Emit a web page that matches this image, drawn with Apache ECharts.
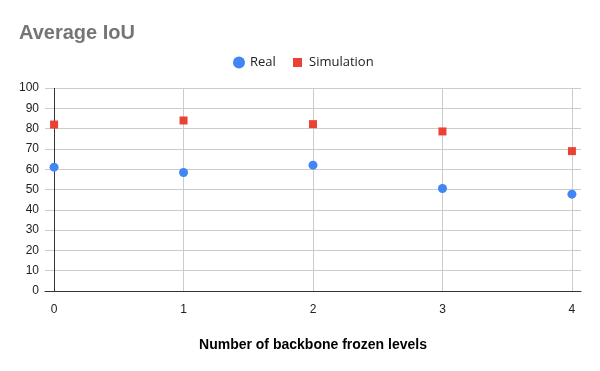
<!DOCTYPE html>
<html>
<head>
<meta charset="utf-8">
<script src="https://cdn.jsdelivr.net/npm/echarts@6/dist/echarts.min.js"></script>
<style>html,body{margin:0;padding:0;background:#fff}#c{width:600px;height:371px}</style>
</head>
<body>
<div id="c"></div>
<script>
const xLevels = [0, 1, 2, 3, 4];
const realIoU = [61.0, 58.4, 62.0, 50.5, 47.7];
const simIoU = [82.0, 84.0, 82.2, 78.6, 68.9];
const xTickLabels = [0, 1, 2, 3, 4];
const seriesNames = ['Real', 'Simulation'];

const chart = echarts.init(document.getElementById('c'), null, {renderer: 'canvas'});
const font = 'Arial, "Liberation Sans", sans-serif';
chart.setOption({
  animation: false,
  backgroundColor: '#fff',
  title: {
    text: 'Average IoU', left: 19, top: 23, padding: 0,
    textStyle: {fontFamily: font, fontSize: 20, fontWeight: 'bold', color: '#757575'}
  },
  legend: [
    {data: [{name: seriesNames[0], icon: 'circle'}], left: 233, top: 56, padding: 0, itemWidth: 12, itemHeight: 12,
     textStyle: {fontFamily: '"Open Sans", sans-serif', fontSize: 13, color: '#222'}},
    {data: [{name: seriesNames[1], icon: 'rect'}], left: 293, top: 56, padding: 0, itemWidth: 9, itemHeight: 9, itemGap: 5,
     textStyle: {fontFamily: '"Open Sans", sans-serif', fontSize: 13, color: '#222', padding: [0, 0, 0, 2]}}
  ],
  grid: {left: 45, right: 19, top: 88, bottom: 80, containLabel: false},
  xAxis: {
    type: 'value', min: -0.07, max: 4.07, z: 0,
    name: 'Number of backbone frozen levels', nameLocation: 'middle', nameGap: 47,
    nameTextStyle: {fontFamily: font, fontSize: 14, fontWeight: 'bold', color: '#000'},
    axisLine: {show: true, onZero: true, lineStyle: {color: '#333', width: 1}},
    axisTick: {show: false},
    axisLabel: {customValues: xTickLabels, margin: 13, fontFamily: font, fontSize: 12, color: '#222'},
    splitLine: {show: false}
  },
  yAxis: {
    type: 'value', min: 0, max: 100, interval: 10, z: 0,
    axisLine: {show: false},
    axisTick: {show: false},
    axisLabel: {margin: 6, fontFamily: font, fontSize: 12, color: '#222'},
    splitLine: {show: true, lineStyle: {color: '#ccc', width: 1}}
  },
  series: [
    {
      type: 'scatter', name: '_grid', data: [], z: 1, silent: true,
      markLine: {
        silent: true, symbol: 'none', animation: false, z: 1,
        label: {show: false},
        lineStyle: {color: '#ccc', type: 'solid', width: 1},
        data: xLevels.map(v => ({xAxis: v, lineStyle: v === 0 ? {color: '#333'} : {color: '#ccc'}}))
      }
    },
    {
      type: 'scatter', name: seriesNames[0], symbol: 'circle', symbolSize: 9, z: 10,
      itemStyle: {color: '#4285F4', opacity: 1},
      data: xLevels.map((x, i) => [x, realIoU[i]])
    },
    {
      type: 'scatter', name: seriesNames[1], symbol: 'rect', symbolSize: 8, z: 10,
      itemStyle: {color: '#EA4335', opacity: 1},
      data: xLevels.map((x, i) => [x, simIoU[i]])
    }
  ]
});
</script>
</body>
</html>
